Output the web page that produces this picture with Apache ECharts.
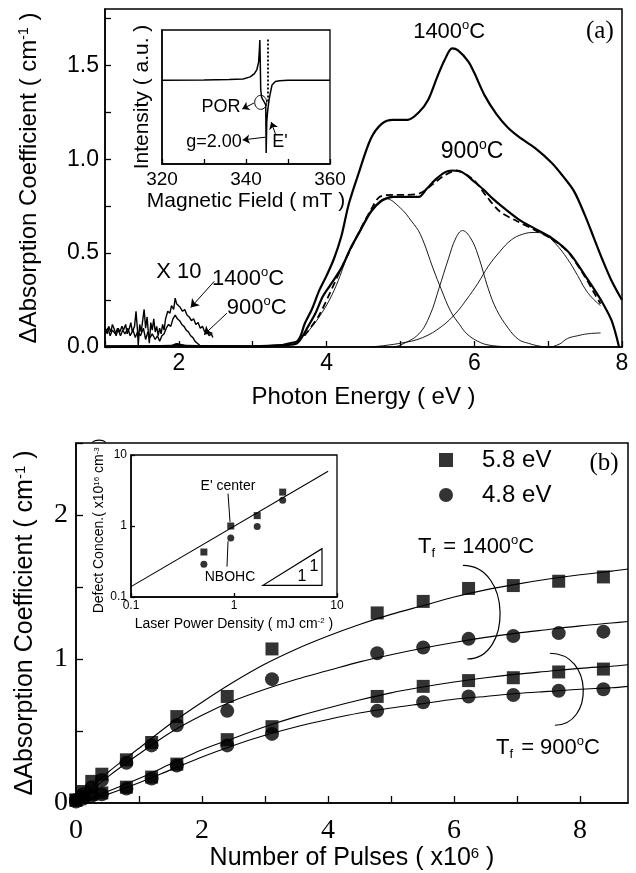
<!DOCTYPE html>
<html>
<head>
<meta charset="utf-8">
<script src="https://cdn.jsdelivr.net/npm/echarts@6/dist/echarts.min.js"></script>
<style>
  html, body { margin: 0; padding: 0; background: #fff; }
  #chart { width: 636px; height: 873px; }
</style>
</head>
<body>
<div id="chart"></div>
<script>
const SANS = '"Liberation Sans", Arial, sans-serif';
const SERIF = '"Liberation Serif", "Times New Roman", serif';

// ---- (a) absorption spectra, [photon energy (eV), delta absorption (cm-1)]
const abs1400 = [[1.0,0.004],[1.9,0.006],[1.97,0.015],[2.1,0.006],[3.0,0.004],[3.4,0.01],[3.5,0.02],[3.6,0.03],[3.65,0.06],[3.7,0.12],[3.8,0.2],[3.9,0.3],[4.0,0.38],[4.1,0.47],[4.2,0.59],[4.3,0.76],[4.43,0.92],[4.6,1.11],[4.75,1.19],[4.9,1.21],[5.1,1.21],[5.25,1.25],[5.38,1.32],[5.5,1.44],[5.6,1.53],[5.7,1.59],[5.78,1.58],[5.92,1.52],[6.0,1.46],[6.14,1.34],[6.3,1.24],[6.45,1.17],[6.6,1.12],[6.82,1.06],[7.05,0.98],[7.2,0.91],[7.35,0.83],[7.5,0.7],[7.62,0.58],[7.73,0.47],[7.85,0.36],[8.0,0.25]];
const abs900 = [[1.0,0.002],[1.9,0.004],[1.97,0.01],[2.1,0.004],[3.0,0.003],[3.45,0.01],[3.6,0.02],[3.68,0.06],[3.75,0.11],[3.85,0.18],[3.95,0.27],[4.05,0.33],[4.2,0.42],[4.33,0.53],[4.43,0.6],[4.6,0.72],[4.75,0.78],[4.9,0.8],[5.1,0.8],[5.25,0.8],[5.35,0.84],[5.47,0.89],[5.6,0.93],[5.7,0.94],[5.84,0.93],[6.0,0.88],[6.12,0.84],[6.25,0.79],[6.37,0.75],[6.6,0.68],[6.82,0.63],[7.05,0.58],[7.29,0.5],[7.5,0.38],[7.62,0.31],[7.73,0.24],[7.86,0.14],[7.96,0.0]];
const fit900 = [[3.7,0.06],[3.9,0.17],[4.2,0.42],[4.45,0.62],[4.6,0.73],[4.72,0.8],[4.9,0.81],[5.08,0.81],[5.27,0.82],[5.45,0.87],[5.58,0.91],[5.76,0.94],[5.99,0.89],[6.17,0.8],[6.35,0.72],[6.58,0.67],[6.81,0.625],[7.03,0.58],[7.26,0.51],[7.49,0.38],[7.62,0.29],[7.71,0.23]];
const band48 = [[3.7,0.06],[3.9,0.16],[4.1,0.3],[4.3,0.5],[4.5,0.66],[4.65,0.75],[4.8,0.79],[5.0,0.74],[5.15,0.67],[5.27,0.6],[5.45,0.41],[5.55,0.31],[5.68,0.19],[5.8,0.12],[5.9,0.07],[6.05,0.03],[6.2,0.01],[6.5,0.0]];
const band58 = [[4.9,0.0],[5.0,0.01],[5.25,0.07],[5.4,0.17],[5.52,0.31],[5.65,0.47],[5.75,0.58],[5.84,0.62],[5.95,0.58],[6.05,0.49],[6.19,0.31],[6.3,0.2],[6.46,0.1],[6.6,0.04],[6.73,0.02],[6.88,0.005],[7.0,0.0],[7.15,0.015],[7.26,0.045],[7.4,0.06],[7.53,0.07],[7.71,0.075]];
const band68 = [[4.6,0.0],[5.0,0.02],[5.3,0.05],[5.56,0.11],[5.75,0.18],[5.89,0.25],[6.05,0.34],[6.19,0.43],[6.35,0.51],[6.5,0.57],[6.65,0.6],[6.81,0.61],[6.95,0.6],[7.1,0.55],[7.26,0.47],[7.4,0.38],[7.5,0.31],[7.6,0.26],[7.71,0.22]];
// x10 traces in the visible range
const near1400x10 = [[1.00,0.10],[1.03,0.07],[1.05,0.11],[1.08,0.08],[1.10,0.12],[1.13,0.09],[1.15,0.06],[1.18,0.10],[1.20,0.08],[1.23,0.11],[1.25,0.09],[1.28,0.12],[1.30,0.07],[1.33,0.10],[1.35,0.13],[1.37,0.08],[1.40,0.11],[1.42,0.19],[1.44,0.09],[1.45,0.01],[1.47,0.12],[1.49,0.08],[1.51,0.14],[1.53,0.20],[1.55,0.10],[1.57,0.16],[1.59,0.06],[1.60,0.02],[1.62,0.13],[1.64,0.09],[1.66,0.15],[1.68,0.08],[1.70,0.11],[1.72,0.06],[1.74,0.10],[1.76,0.07],[1.78,0.12],[1.80,0.09],[1.82,0.15],[1.85,0.19],[1.88,0.18],[1.90,0.22],[1.93,0.20],[1.95,0.26],[1.97,0.23],[1.99,0.22],[2.02,0.21],[2.05,0.19],[2.08,0.20],[2.11,0.17],[2.14,0.16],[2.17,0.14],[2.20,0.15],[2.23,0.12],[2.26,0.13],[2.29,0.10],[2.32,0.11],[2.35,0.08],[2.38,0.09],[2.41,0.06],[2.44,0.07],[2.46,0.05]];
const near900x10 = [[1.00,0.08],[1.04,0.10],[1.07,0.06],[1.10,0.09],[1.14,0.07],[1.17,0.10],[1.21,0.06],[1.24,0.09],[1.27,0.07],[1.31,0.10],[1.34,0.06],[1.38,0.09],[1.41,0.05],[1.44,0.08],[1.48,0.06],[1.52,0.10],[1.55,0.04],[1.58,0.08],[1.61,0.05],[1.64,0.07],[1.68,0.04],[1.71,0.06],[1.74,0.03],[1.77,0.06],[1.80,0.07],[1.83,0.10],[1.86,0.12],[1.89,0.11],[1.92,0.15],[1.95,0.17],[1.98,0.15],[2.01,0.14],[2.04,0.12],[2.07,0.11],[2.10,0.09],[2.13,0.08],[2.16,0.06],[2.19,0.05],[2.22,0.03],[2.25,0.02],[2.28,0.01]];

// ---- (a) inset: ESR spectrum
const esrField = [320, 330, 336, 339.3, 341, 342, 342.6, 343.0, 343.2, 343.3, 343.4, 343.5, 343.7, 344.0, 344.4, 344.7, 344.8, 344.95, 345.2, 345.5, 345.8, 346.2, 347, 348, 350, 355, 360];
const esrSignal = [6.25, 6.27, 6.3, 6.35, 6.5, 6.75, 7.05, 7.6, 8.6, 9.25, 7.5, 5.6, 5.0, 4.8, 4.6, 4.4, 0.82, 3.2, 4.1, 4.8, 5.3, 5.9, 6.15, 6.22, 6.25, 6.25, 6.25];

// ---- (b) growth with number of pulses (x10^6)
const pulses = [0, 0.11, 0.25, 0.41, 0.8, 1.2, 1.6, 2.4, 3.11, 4.78, 5.51, 6.23, 6.94, 7.66, 8.37];
const e58at1400 = [0.02, 0.08, 0.15, 0.20, 0.30, 0.42, 0.60, 0.74, 1.07, 1.32, 1.40, 1.49, 1.51, 1.54, 1.57];
const e48at1400 = [0.02, 0.06, 0.11, 0.16, 0.28, 0.40, 0.54, 0.64, 0.86, 1.04, 1.08, 1.14, 1.16, 1.18, 1.19];
const e58at900 = [0.02, 0.04, 0.06, 0.07, 0.11, 0.18, 0.27, 0.44, 0.53, 0.74, 0.81, 0.85, 0.87, 0.91, 0.93];
const e48at900 = [0.01, 0.03, 0.05, 0.06, 0.10, 0.17, 0.26, 0.40, 0.48, 0.64, 0.70, 0.74, 0.75, 0.78, 0.79];
const fitPulses = [0, 0.5, 1.0, 1.5, 2.0, 2.5, 3.0, 3.5, 4.0, 4.5, 5.0, 5.5, 6.0, 6.5, 7.0, 7.5, 8.0, 8.5, 8.76];
const fit58at1400 = [0, 0.21, 0.38, 0.55, 0.70, 0.84, 0.965, 1.07, 1.16, 1.24, 1.31, 1.37, 1.43, 1.48, 1.52, 1.555, 1.585, 1.61, 1.625];
const fit48at1400 = [0, 0.18, 0.34, 0.49, 0.61, 0.71, 0.79, 0.86, 0.92, 0.98, 1.03, 1.075, 1.115, 1.15, 1.18, 1.205, 1.23, 1.25, 1.26];
const fit58at900 = [0, 0.08, 0.17, 0.27, 0.37, 0.45, 0.53, 0.60, 0.66, 0.715, 0.765, 0.805, 0.84, 0.87, 0.895, 0.915, 0.935, 0.95, 0.96];
const fit48at900 = [0, 0.06, 0.14, 0.23, 0.32, 0.40, 0.47, 0.53, 0.58, 0.625, 0.66, 0.69, 0.72, 0.74, 0.76, 0.775, 0.79, 0.80, 0.81];

// ---- (b) inset: defect concentration vs laser power density
const powerDensity = [0.51, 0.93, 1.68, 2.97];
const defectE = [0.43, 1.0, 1.40, 3.0];
const defectNBOHC = [0.29, 0.68, 0.98, 2.30];
const fitPower = [0.1, 8.2];
const fitDefect = [0.14, 5.9];

const zip = (xs, ys) => xs.map((x, i) => [x, ys[i]]);

const chart = echarts.init(document.getElementById('chart'));

function line(data, idx, width, extra) {
  return Object.assign({
    type: 'line', data: data, xAxisIndex: idx, yAxisIndex: idx,
    symbol: 'none', smooth: false, silent: true,
    lineStyle: { color: '#000', width: width }
  }, extra || {});
}
function dots(name, data, idx, symbol, size) {
  return {
    type: 'scatter', name: name, data: data, xAxisIndex: idx, yAxisIndex: idx,
    symbol: symbol, symbolSize: size, itemStyle: { color: '#000' }, silent: true
  };
}

const tickStyle = { color: '#000', width: 1.3 };
const axLine = { show: true, lineStyle: { color: '#000', width: 1.5 } };
const noSplit = { show: false };

function supRich(size, family) {
  return {
    n: { fontSize: size, fontFamily: family || SANS, color: '#000' },
    s: { fontSize: Math.round(size * 0.6), fontFamily: family || SANS, color: '#000', verticalAlign: 'top', lineHeight: Math.round(size * 0.6) }
  };
}

const arrowLines = (pairs, withHead) => pairs.map(p => [
  { coord: p[0], symbol: 'none' },
  { coord: p[1], symbol: withHead ? 'arrow' : 'none' }
]);

const option = {
  animation: false,
  backgroundColor: '#fff',
  grid: [
    { left: 105, top: 9, width: 517, height: 338, show: true, borderColor: '#000', borderWidth: 1.5, backgroundColor: 'transparent' },
    { left: 162, top: 30, width: 168, height: 134, show: true, borderColor: '#000', borderWidth: 1.3, backgroundColor: 'transparent' },
    { left: 76, top: 443, width: 552, height: 360, show: true, borderColor: '#000', borderWidth: 1.5, backgroundColor: 'transparent' },
    { left: 131, top: 455, width: 206, height: 142, show: true, borderColor: '#000', borderWidth: 1.3, backgroundColor: 'transparent' }
  ],
  legend: {
    data: [{ name: '5.8 eV', icon: 'rect' }, { name: '4.8 eV', icon: 'circle' }],
    orient: 'vertical', left: 434, top: 443, itemWidth: 14, itemHeight: 14, itemGap: 11,
    selectedMode: false,
    textStyle: { fontFamily: SANS, fontSize: 24, color: '#000', padding: [0, 0, 0, 24] }
  },
  xAxis: [
    {
      gridIndex: 0, type: 'value', min: 1, max: 8, interval: 1,
      axisLine: axLine, splitLine: noSplit,
      axisTick: { inside: true, length: 6, lineStyle: tickStyle },
      axisLabel: { formatter: v => (v % 2 === 0 ? String(v) : ''), fontFamily: SANS, fontSize: 23, color: '#000', margin: 5 },
      name: 'Photon Energy ( eV )', nameLocation: 'middle', nameGap: 38,
      nameTextStyle: { fontFamily: SANS, fontSize: 24, color: '#000' }
    },
    {
      gridIndex: 1, type: 'value', min: 320, max: 360, interval: 10,
      axisLine: axLine, splitLine: noSplit,
      axisTick: { inside: true, length: 5, lineStyle: tickStyle },
      axisLabel: { formatter: v => (v % 20 === 0 ? String(v) : ''), fontFamily: SANS, fontSize: 19, color: '#000', margin: 6 },
      name: 'Magnetic Field ( mT )', nameLocation: 'middle', nameGap: 27,
      nameTextStyle: { fontFamily: SANS, fontSize: 21, color: '#000' }
    },
    {
      gridIndex: 2, type: 'value', min: 0, max: 8.76, interval: 1,
      axisLine: axLine, splitLine: noSplit,
      axisTick: { inside: true, length: 7, lineStyle: tickStyle },
      axisLabel: { formatter: v => (v % 2 === 0 ? String(v) : ''), fontFamily: SERIF, fontSize: 28, color: '#000', margin: 14, showMaxLabel: false },
      name: '{n|Number of Pulses ( x10}{s|6}{n| )}', nameLocation: 'middle', nameGap: 34,
      nameTextStyle: { rich: supRich(25) }
    },
    {
      gridIndex: 3, type: 'log', logBase: 10, min: 0.1, max: 10,
      axisLine: axLine, splitLine: noSplit,
      axisTick: { inside: true, length: 4, lineStyle: tickStyle },
      axisLabel: { fontFamily: SANS, fontSize: 12, color: '#000', margin: 3 },
      name: '{n|Laser Power Density ( mJ cm}{s|-2}{n| )}', nameLocation: 'middle', nameGap: 20,
      nameTextStyle: { rich: supRich(14) }
    }
  ],
  yAxis: [
    {
      gridIndex: 0, type: 'value', min: 0, max: 1.8, interval: 0.25,
      axisLine: axLine, splitLine: noSplit,
      axisTick: { inside: true, length: 6, lineStyle: tickStyle },
      axisLabel: { formatter: v => (Math.abs(v * 2 - Math.round(v * 2)) < 1e-6 ? v.toFixed(1) : ''), fontFamily: SANS, fontSize: 23, color: '#000', margin: 6, showMaxLabel: false },
      name: '{n|ΔAbsorption Coefficient ( cm}{s|-1}{n| )}', nameLocation: 'middle', nameGap: 64,
      nameTextStyle: { rich: supRich(24) }
    },
    {
      gridIndex: 1, type: 'value', min: 0, max: 10,
      axisLine: axLine, splitLine: noSplit, axisTick: { show: false }, axisLabel: { show: false },
      name: 'Intensity ( a.u. )', nameLocation: 'middle', nameGap: 9,
      nameTextStyle: { fontFamily: SANS, fontSize: 21, color: '#000' }
    },
    {
      gridIndex: 2, type: 'value', min: 0, max: 2.5, interval: 0.5,
      axisLine: axLine, splitLine: noSplit,
      axisTick: { inside: true, length: 7, lineStyle: tickStyle },
      axisLabel: { formatter: v => (v % 1 === 0 ? String(v) : ''), fontFamily: SERIF, fontSize: 28, color: '#000', margin: 8 },
      name: '{n|ΔAbsorption Coefficient ( cm}{s|-1}{n| )}', nameLocation: 'middle', nameGap: 38,
      nameTextStyle: { rich: supRich(25) }
    },
    {
      gridIndex: 3, type: 'log', logBase: 10, min: 0.1, max: 10,
      axisLine: axLine, splitLine: noSplit,
      axisTick: { inside: true, length: 4, lineStyle: tickStyle },
      axisLabel: { fontFamily: SANS, fontSize: 12, color: '#000', margin: 4 },
      name: '{n|Defect Concen.( x10}{s|16}{n| cm}{s|-3}{n| )}', nameLocation: 'middle', nameGap: 22,
      nameTextStyle: { rich: supRich(14) }
    }
  ],
  series: [
    // (a)
    line(abs1400, 0, 2.2, { smooth: 0.3 }),
    line(abs900, 0, 2.2, { smooth: 0.3 }),
    line(fit900, 0, 1.8, { smooth: 0.3, lineStyle: { color: '#000', width: 1.8, type: [7, 4] } }),
    line(band48, 0, 0.9, { smooth: 0.4 }),
    line(band58, 0, 0.9, { smooth: 0.4 }),
    line(band68, 0, 0.9, { smooth: 0.4 }),
    line(near1400x10, 0, 1.4, {
      markLine: {
        silent: true, symbolSize: 8, label: { show: false },
        lineStyle: { color: '#000', width: 1, type: 'solid' },
        data: arrowLines([[[2.48, 0.35], [2.16, 0.21]], [[2.65, 0.18], [2.34, 0.065]]], true)
      }
    }),
    line(near900x10, 0, 1.4),
    // (a) inset
    line(zip(esrField, esrSignal), 1, 1.5, {
      markLine: {
        silent: true, symbolSize: 7, label: { show: false },
        lineStyle: { color: '#000', width: 1, type: 'solid' },
        data: arrowLines([[[341.9, 4.55], [339.1, 4.1]], [[344.6, 2.0], [339.2, 1.8]], [[347.1, 2.16], [346.0, 3.13]]], true)
          .concat([[{ coord: [345.2, 9.3], symbol: 'none', lineStyle: { type: [2, 2], width: 1.8 } }, { coord: [345.2, 4.6], symbol: 'none' }]])
      }
    }),
    // (b)
    line(zip(fitPulses, fit58at1400), 2, 1.1, { smooth: 0.3 }),
    line(zip(fitPulses, fit48at1400), 2, 1.1, { smooth: 0.3 }),
    line(zip(fitPulses, fit58at900), 2, 1.1, { smooth: 0.3 }),
    line(zip(fitPulses, fit48at900), 2, 1.1, { smooth: 0.3 }),
    dots('5.8 eV', zip(pulses, e58at1400), 2, 'rect', 13),
    dots('4.8 eV', zip(pulses, e48at1400), 2, 'circle', 14),
    dots('5.8 eV', zip(pulses, e58at900), 2, 'rect', 13),
    dots('4.8 eV', zip(pulses, e48at900), 2, 'circle', 14),
    // (b) inset
    line(zip(fitPower, fitDefect), 3, 1.1, {
      markLine: {
        silent: true, label: { show: false },
        lineStyle: { color: '#000', width: 1, type: 'solid' },
        data: arrowLines([[[0.875, 2.86], [0.915, 1.14]], [[0.875, 0.61], [0.855, 0.268]]], false)
      }
    }),
    dots('E\' center', zip(powerDensity, defectE), 3, 'rect', 7),
    dots('NBOHC', zip(powerDensity, defectNBOHC), 3, 'circle', 7)
  ]
};

chart.setOption(option);

// ---- annotations, anchored in data coordinates
const at = (g, x, y) => chart.convertToPixel({ gridIndex: g }, [x, y]);

function label(g, x, y, text, size, opts) {
  const p = at(g, x, y);
  return {
    type: 'text', x: p[0], y: p[1], silent: true,
    style: Object.assign({
      text: text, fill: '#000', fontFamily: SANS, fontSize: size,
      align: 'center', verticalAlign: 'middle'
    }, opts || {})
  };
}
function degLabel(g, x, y, pre, num, size, align) {
  const p = at(g, x, y);
  const text = (pre ? '{t|T}{f|f}{n| = ' : '{n|') + num + '}{o|o}{n|C}';
  return {
    type: 'text', x: p[0], y: p[1], silent: true,
    style: {
      text: text, align: align || 'center', verticalAlign: 'middle',
      rich: {
        n: { fontSize: size, fontFamily: SANS, fill: '#000', lineHeight: size + 4 },
        t: { fontSize: size, fontFamily: SANS, fill: '#000', lineHeight: size + 4 },
        o: { fontSize: Math.round(size * 0.6), fontFamily: SANS, fill: '#000', verticalAlign: 'top', lineHeight: Math.round(size * 0.6) },
        f: { fontSize: Math.round(size * 0.6), fontFamily: SANS, fill: '#000', verticalAlign: 'bottom', lineHeight: Math.round(size * 0.6), padding: [0, 2, 0, 0] }
      }
    }
  };
}
function bracket(g, top, bottom, right) {
  const a = at(g, top[0], top[1]);
  const b = at(g, bottom[0], bottom[1]);
  const r = at(g, right[0], right[1]);
  const cx = (a[0] + b[0]) / 2 + (r[0] - (a[0] + b[0]) / 2) * 4 / 3;
  return {
    type: 'bezierCurve', silent: true,
    shape: { x1: a[0], y1: a[1], cpx1: cx, cpy1: a[1], cpx2: cx, cpy2: b[1], x2: b[0], y2: b[1] },
    style: { stroke: '#000', lineWidth: 1.2, fill: null }
  };
}

const porCircle = at(1, 343.5, 4.6);
const triA = at(3, 1.91, 0.146), triB = at(3, 7.15, 0.146), triC = at(3, 7.15, 0.48);

chart.setOption({
  graphic: [
    label(0, 2.0, 0.40, 'X 10', 22),
    degLabel(0, 2.45, 0.36, false, '1400', 22, 'left'),
    degLabel(0, 2.65, 0.21, false, '900', 22, 'left'),
    degLabel(0, 5.66, 1.68, false, '1400', 22),
    degLabel(0, 5.97, 1.04, false, '900', 23),
    label(0, 7.70, 1.68, '(a)', 25, { fontFamily: SERIF }),
    label(1, 338.7, 4.25, 'POR', 18, { align: 'right' }),
    label(1, 339.0, 1.64, 'g=2.00', 18, { align: 'right' }),
    label(1, 348.1, 1.64, 'E\'', 18),
    {
      type: 'ellipse', silent: true,
      shape: { cx: porCircle[0], cy: porCircle[1], rx: 6, ry: 7 },
      style: { stroke: '#000', lineWidth: 1, fill: null }
    },
    degLabel(2, 6.35, 1.78, true, '1400', 22),
    degLabel(2, 7.49, 0.38, true, '900', 22),
    label(2, 8.38, 2.36, '(b)', 25, { fontFamily: SERIF }),
    bracket(2, [6.14, 1.65], [6.21, 1.0], [6.73, 1.33]),
    bracket(2, [7.52, 1.04], [7.60, 0.54], [8.05, 0.80]),
    label(3, 0.875, 3.6, 'E\' center', 14),
    label(3, 0.915, 0.193, 'NBOHC', 14),
    {
      type: 'polygon', silent: true,
      shape: { points: [triA, triB, triC] },
      style: { stroke: '#000', lineWidth: 1.2, fill: null }
    },
    label(3, 4.57, 0.193, '1', 16),
    label(3, 5.98, 0.268, '1', 16)
  ]
});
</script>
</body>
</html>
